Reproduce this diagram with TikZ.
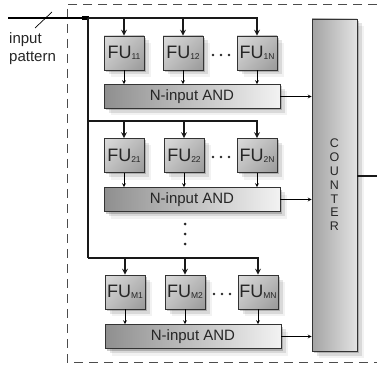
\documentclass[tikz,border=0pt]{standalone}
\usepackage{fontspec}
\setmainfont{Liberation Sans}
\usetikzlibrary{arrows, positioning, shadows, shadings, calc}
\newcommand{\fulabel}[1]{{\fontsize{18}{18}\selectfont FU}\raisebox{-1pt}{\fontsize{8.5}{9}\selectfont #1}}
\tikzset{
  softshadow/.style={
    drop shadow={shadow xshift=2pt, shadow yshift=-2pt, opacity=0.2, fill=black},
    drop shadow={shadow xshift=4.5pt, shadow yshift=-4.5pt, opacity=0.1, fill=black},
    drop shadow={shadow xshift=7pt, shadow yshift=-7pt, opacity=0.05, fill=black}
  },
  fu/.style={rectangle, minimum width=40pt, minimum height=34pt, inner sep=0.5pt, text centered,
    draw=black!80, line width=0.7pt, text=black!85,
    upper left=gray!28, upper right=gray!55, lower left=gray!50, lower right=gray!80, softshadow},
  andgate/.style={rectangle, minimum width=176pt, minimum height=24pt, text centered,
    draw=black!80, line width=0.7pt, font=\fontsize{15}{15}\selectfont, text=black!85,
    left color=gray!88, right color=gray!10, softshadow},
  counterbox/.style={rectangle, minimum width=45pt, minimum height=332pt, align=center,
    draw=black!80, line width=0.7pt, font=\fontsize{12.5}{13.8}\selectfont, text=black!85,
    left color=gray!72, right color=gray!22, softshadow},
  frame/.style={draw=black!70, line width=0.6pt, dash pattern=on 9pt off 6pt},
  bus/.style={line width=1.6pt, black!90},
  busarrow/.style={line width=1.6pt, black!90, ->, >=stealth},
  arrow/.style={line width=0.75pt, ->, >=stealth}
}
\begin{document}
\begin{tikzpicture}[x=1pt, y=-1pt]
\useasboundingbox (0,0) rectangle (377,366);

% Frame
\draw[frame] (377,4) -| (67,362) -- (377,362);

% Nodes
\node (fu11) [fu] at (124,53) {\fulabel{11}};
\node (fu12) [fu] at (183,53) {\fulabel{12}};
\node (fu1n) [fu] at (257,53) {\fulabel{1N}};
\node (and1) [andgate] at (192,96.5) {N-input AND};

\node (fu21) [fu] at (124,155.5) {\fulabel{21}};
\node (fu22) [fu] at (184,155.5) {\fulabel{22}};
\node (fu2n) [fu] at (257,155.5) {\fulabel{2N}};
\node (and2) [andgate] at (192,199.5) {N-input AND};

\node (fum1) [fu] at (125,292) {\fulabel{M1}};
\node (fum2) [fu] at (185,292) {\fulabel{M2}};
\node (fumn) [fu] at (258,292) {\fulabel{MN}};
\node (andm) [andgate] at (193,336.5) {N-input AND};

\node (counter) [counterbox] at (334.5,185) {C\\O\\U\\N\\T\\E\\R};

\node (inlabel) [anchor=north west, align=left, inner sep=0pt, text=black!85,
  font=\fontsize{15}{18}\selectfont] at (9,32) {input\\pattern};

% Bus
\coordinate (inp) at (8,18);
\coordinate (bus1) at (88,18);
\coordinate (bus2) at (88,121);
\coordinate (busm) at (88,258);
\coordinate (out) at (377,176);

\draw[line width=1.2pt] (inp) -- (bus1);
\fill (82,16) rectangle (89,20.5);
\draw[line width=0.7pt] (35,28) -- (52,12);
\draw[bus] (bus1) -- (busm);

\draw[busarrow] (bus1) -| (fu1n.north);
\draw[busarrow] (fu11 |- bus1) -- (fu11.north);
\draw[busarrow] (fu12 |- bus1) -- (fu12.north);
\draw[busarrow] (bus2) -| (fu2n.north);
\draw[busarrow] (fu21 |- bus2) -- (fu21.north);
\draw[busarrow] (fu22 |- bus2) -- (fu22.north);
\draw[busarrow] (busm) -| (fumn.north);
\draw[busarrow] (fum1 |- busm) -- (fum1.north);
\draw[busarrow] (fum2 |- busm) -- (fum2.north);

% Arrows
\draw[arrow] (fu11.south) -- (fu11.south |- and1.north);
\draw[arrow] (fu12.south) -- (fu12.south |- and1.north);
\draw[arrow] (fu1n.south) -- (fu1n.south |- and1.north);
\draw[arrow] (fu21.south) -- (fu21.south |- and2.north);
\draw[arrow] (fu22.south) -- (fu22.south |- and2.north);
\draw[arrow] (fu2n.south) -- (fu2n.south |- and2.north);
\draw[arrow] (fum1.south) -- (fum1.south |- andm.north);
\draw[arrow] (fum2.south) -- (fum2.south |- andm.north);
\draw[arrow] (fumn.south) -- (fumn.south |- andm.north);

\draw[arrow] (and1.east) -- (and1.east -| counter.west);
\draw[arrow] (and2.east) -- (and2.east -| counter.west);
\draw[arrow] (andm.east) -- (andm.east -| counter.west);

\draw[bus] (counter.east |- out) -- (out);

% Dots
\foreach \x in {213,221,229} {
  \fill[black!85] (\x,55) circle (1.3);
  \fill[black!85] (\x,157) circle (1.3);
  \fill[black!85] (\x+1,294) circle (1.3);
}
\foreach \y in {224,234,244}
  \fill[black!85] (185,\y) circle (1.5);
\end{tikzpicture}
\end{document}
